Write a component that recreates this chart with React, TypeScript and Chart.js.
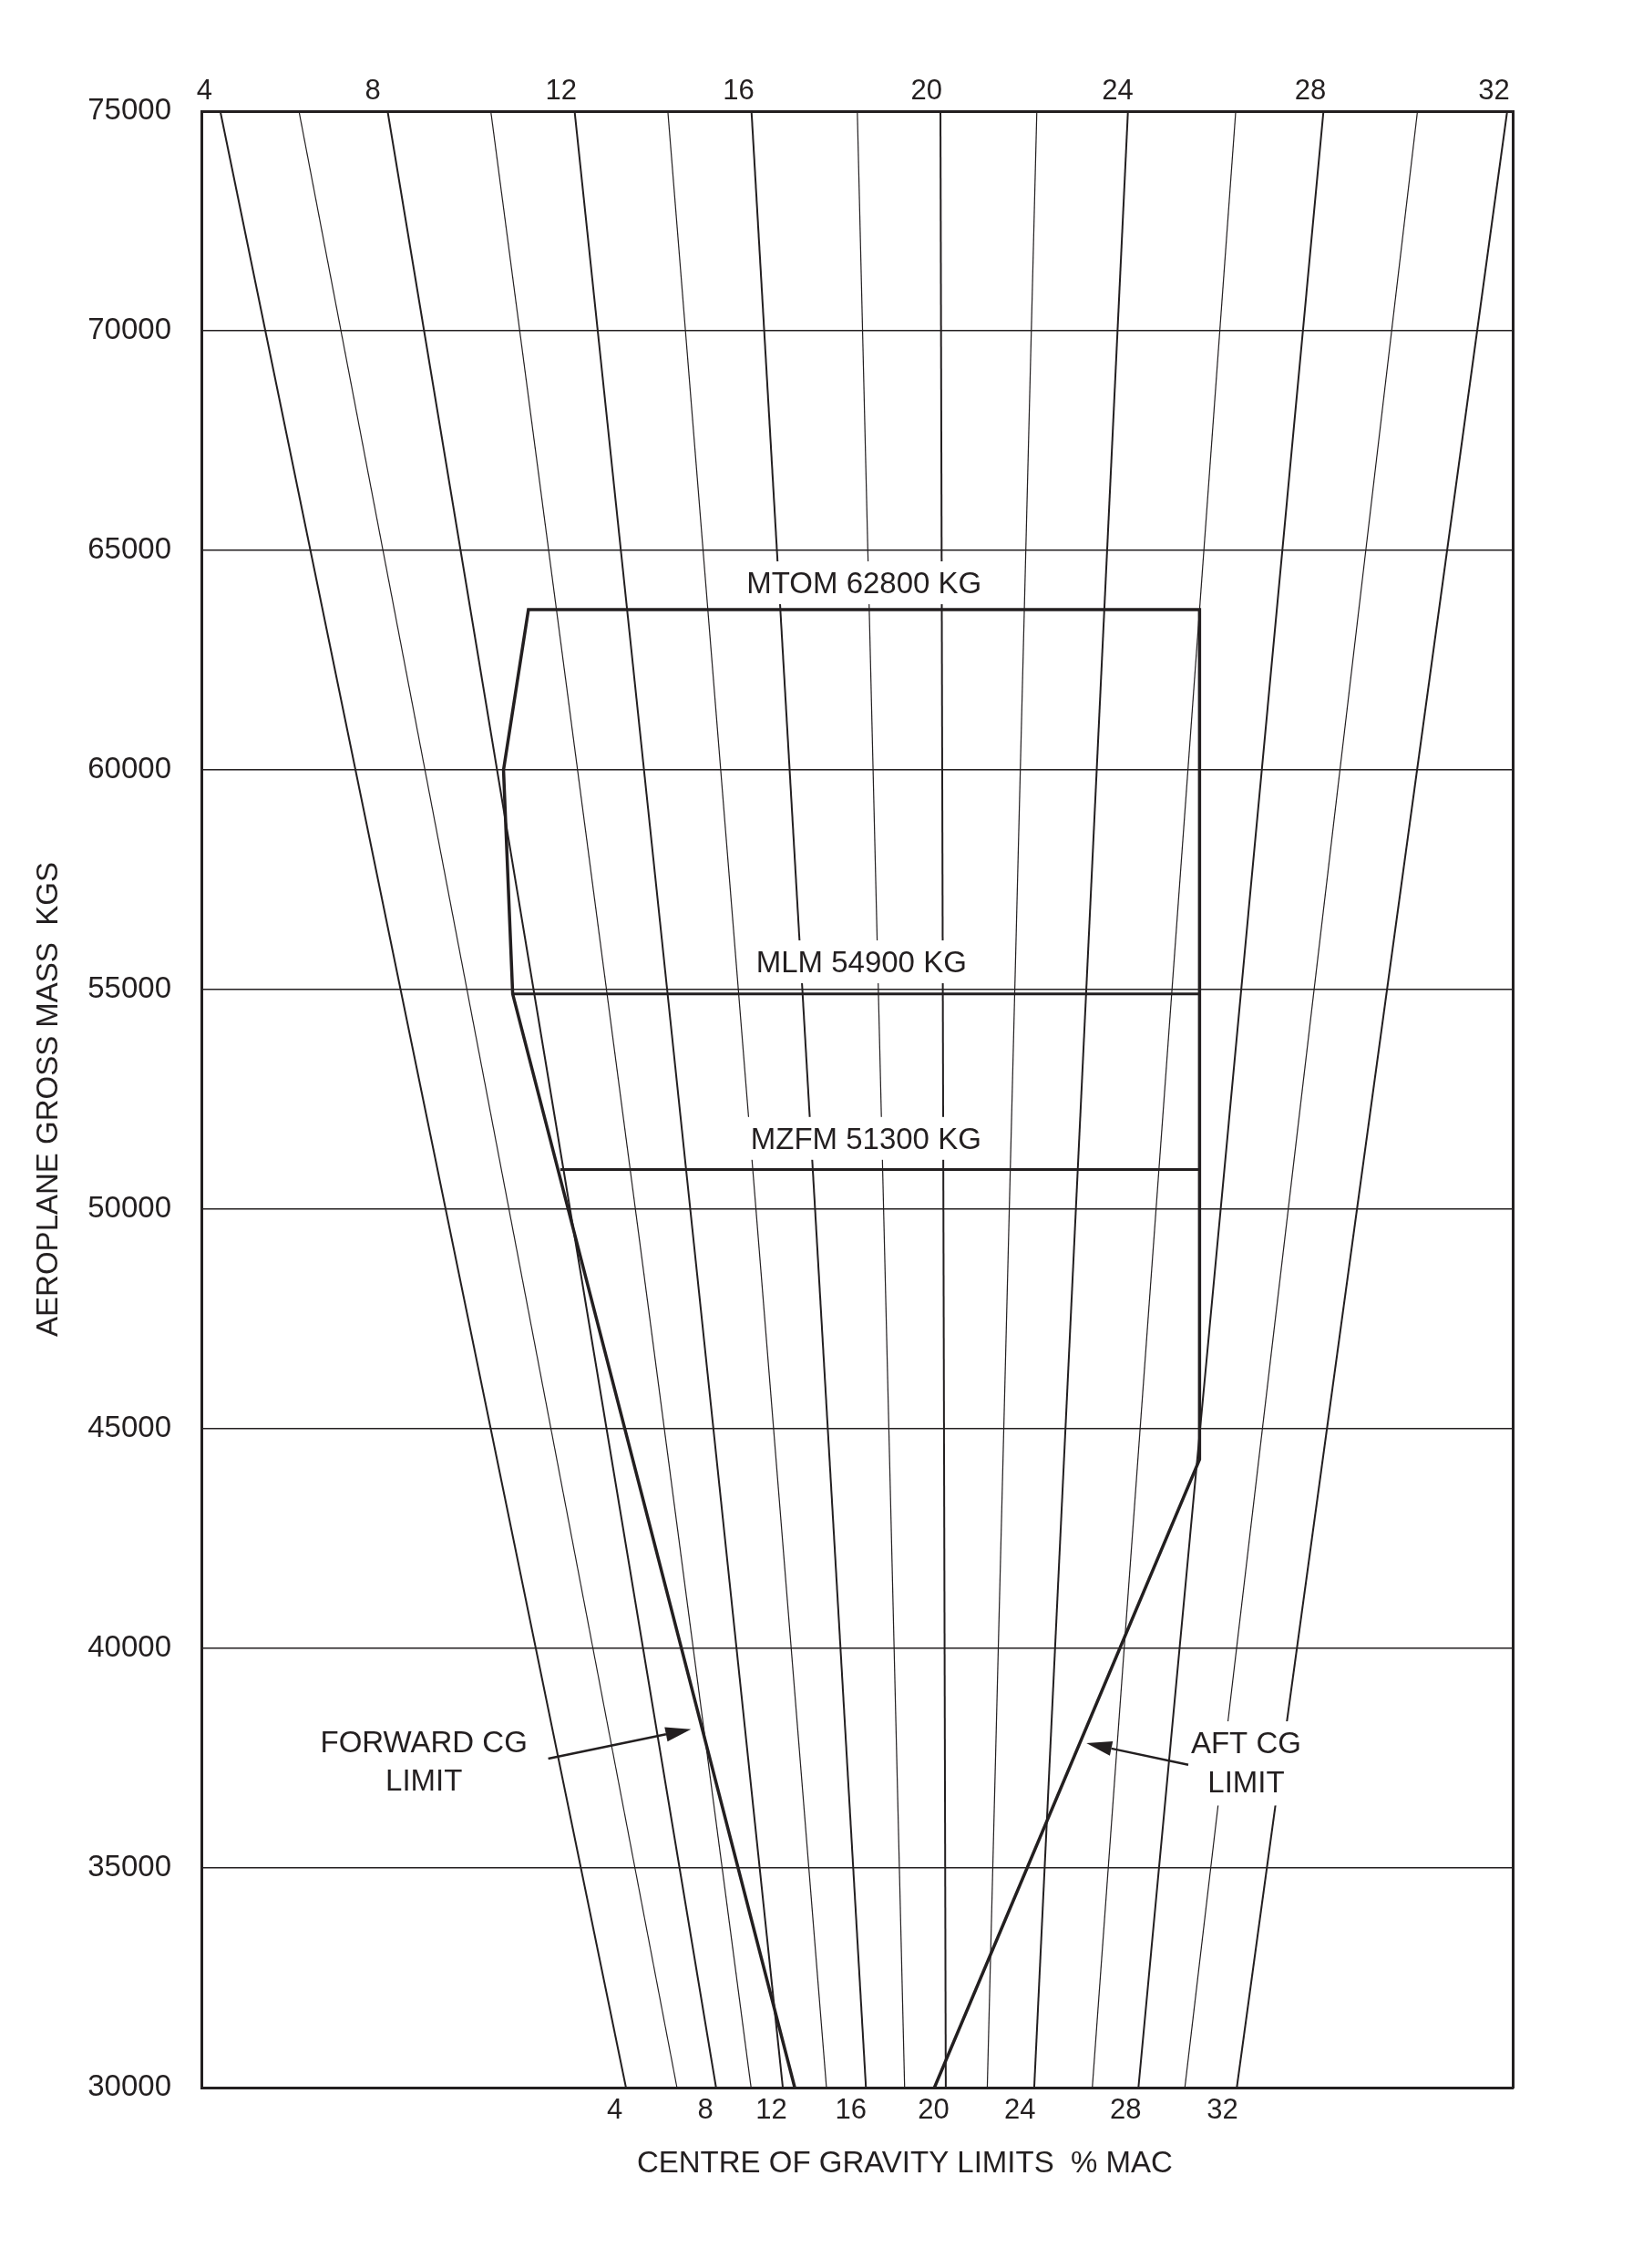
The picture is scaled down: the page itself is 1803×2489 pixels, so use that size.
import React, { useEffect, useRef } from 'react';
import { Chart, registerables } from 'chart.js';

Chart.register(...registerables);

const W = 1803;
const H = 2489;
const INK = '#231f20';
const FONT = '"Liberation Sans", Arial, Helvetica, sans-serif';

// Mass axis (kg)
const MASS_MIN = 30000;
const MASS_MAX = 75000;
const MASS_STEP = 5000;

// Horizontal "index" scale (arbitrary units 0..100 across the plot)
const INDEX_MIN = 0;
const INDEX_MAX = 100;

// %MAC reference lines: index where each meets the 75000 kg edge and the 30000 kg edge
const CG_PERCENT = [4, 6, 8, 10, 12, 14, 16, 18, 20, 22, 24, 26, 28, 30, 32];
const CG_INDEX_AT_MAX_MASS = [1.44, 7.44, 14.2, 22.07, 28.46, 35.57, 41.95, 50.02, 56.36, 63.71, 70.66, 78.88, 85.57, 92.74, 99.58];
const CG_INDEX_AT_MIN_MASS = [32.38, 36.27, 39.25, 41.92, 44.34, 47.67, 50.68, 53.63, 56.77, 59.93, 63.51, 67.94, 71.46, 75.0, 78.96];

// Tick labels (%MAC) along the top and bottom edges
const TOP_TICK_LABELS = ['4', '8', '12', '16', '20', '24', '28', '32'];
const TOP_TICK_INDEX = [0.24, 13.08, 27.44, 40.97, 55.3, 69.88, 84.58, 98.57];
const BOTTOM_TICK_LABELS = ['4', '8', '12', '16', '20', '24', '28', '32'];
const BOTTOM_TICK_INDEX = [31.52, 38.44, 43.47, 49.53, 55.83, 62.42, 70.49, 77.86];

// CG envelope outline (forward limit -> MTOM -> aft limit)
const ENVELOPE_INDEX = [45.25, 23.74, 23.04, 24.94, 76.12, 76.12, 55.9];
const ENVELOPE_MASS = [30000, 54900, 60000, 63650, 63650, 44300, 30000];

// Structural limit lines
const MLM_INDEX = [23.74, 76.12];
const MLM_MASS = 54900;
const MZFM_INDEX = [27.37, 76.12];
const MZFM_MASS = 50900;

// Limit labels
const LIMIT_LABEL_TEXT = ['MTOM 62800 KG', 'MLM 54900 KG', 'MZFM 51300 KG'];
const LIMIT_LABEL_INDEX = [50.54, 50.33, 50.68];
const LIMIT_LABEL_MASS = [64210, 55580, 51560];

// Callout notes and arrows
const NOTE_TEXT = [['FORWARD CG', 'LIMIT'], ['AFT CG', 'LIMIT']];
const NOTE_INDEX = [16.97, 79.67];
const NOTE_MASS = [[37820, 36950], [37800, 36920]];
const ARROW_TAIL_INDEX = [26.45, 75.26];
const ARROW_TAIL_MASS = [37490, 37350];
const ARROW_TIP_INDEX = [37.34, 67.49];
const ARROW_TIP_MASS = [38160, 37840];

const X_TITLE = 'CENTRE OF GRAVITY LIMITS  % MAC';
const X_TITLE_INDEX = 53.64;
const Y_TITLE = 'AEROPLANE GROSS MASS  KGS';

const annotationPlugin = {
  id: 'cgAnnotations',
  afterDatasetsDraw(chart: any) {
    const ctx = chart.ctx;
    const xs = chart.scales.x;
    const ys = chart.scales.y;
    ctx.save();
    ctx.font = `33px ${FONT}`;
    ctx.textAlign = 'center';
    ctx.textBaseline = 'middle';
    // limit labels with white backing
    LIMIT_LABEL_TEXT.forEach((t, i) => {
      const px = xs.getPixelForValue(LIMIT_LABEL_INDEX[i]);
      const py = ys.getPixelForValue(LIMIT_LABEL_MASS[i]);
      const w = ctx.measureText(t).width;
      ctx.fillStyle = '#ffffff';
      ctx.fillRect(px - w / 2 - 6, py - 26, w + 12, 47);
      ctx.fillStyle = INK;
      ctx.fillText(t, px, py);
    });
    // notes with white backing
    NOTE_TEXT.forEach((lines, i) => {
      lines.forEach((t, j) => {
        const px = xs.getPixelForValue(NOTE_INDEX[i]);
        const py = ys.getPixelForValue(NOTE_MASS[i][j]);
        const w = ctx.measureText(t).width;
        ctx.fillStyle = '#ffffff';
        ctx.fillRect(px - w / 2 - 8, py - 26, w + 16, 50);
      });
    });
    NOTE_TEXT.forEach((lines, i) => {
      lines.forEach((t, j) => {
        const px = xs.getPixelForValue(NOTE_INDEX[i]);
        const py = ys.getPixelForValue(NOTE_MASS[i][j]);
        ctx.fillStyle = INK;
        ctx.fillText(t, px, py);
      });
    });
    // arrows
    ARROW_TAIL_INDEX.forEach((_, i) => {
      const x0 = xs.getPixelForValue(ARROW_TAIL_INDEX[i]);
      const y0 = ys.getPixelForValue(ARROW_TAIL_MASS[i]);
      const x1 = xs.getPixelForValue(ARROW_TIP_INDEX[i]);
      const y1 = ys.getPixelForValue(ARROW_TIP_MASS[i]);
      const ang = Math.atan2(y1 - y0, x1 - x0);
      const len = 28;
      const hw = 8;
      const bx = x1 - Math.cos(ang) * len;
      const by = y1 - Math.sin(ang) * len;
      ctx.strokeStyle = INK;
      ctx.lineWidth = 2.5;
      ctx.beginPath();
      ctx.moveTo(x0, y0);
      ctx.lineTo(bx, by);
      ctx.stroke();
      ctx.fillStyle = INK;
      ctx.beginPath();
      ctx.moveTo(x1, y1);
      ctx.lineTo(bx + Math.sin(ang) * hw, by - Math.cos(ang) * hw);
      ctx.lineTo(bx - Math.sin(ang) * hw, by + Math.cos(ang) * hw);
      ctx.closePath();
      ctx.fill();
    });
    // x axis title
    ctx.font = `33px ${FONT}`;
    ctx.fillStyle = INK;
    ctx.fillText(X_TITLE, xs.getPixelForValue(X_TITLE_INDEX), chart.chartArea.bottom + 84);
    ctx.restore();
  },
};

export default function App() {
  const ref = useRef<HTMLCanvasElement | null>(null);

  useEffect(() => {
    if (!ref.current) return;
    Chart.defaults.font.family = FONT;
    Chart.defaults.color = INK;

    const cgDatasets = CG_PERCENT.map((p, i) => ({
      label: `${p}% MAC`,
      data: [
        { x: CG_INDEX_AT_MAX_MASS[i], y: MASS_MAX },
        { x: CG_INDEX_AT_MIN_MASS[i], y: MASS_MIN },
      ],
      showLine: true,
      borderColor: INK,
      borderWidth: p % 4 === 0 ? 2 : 1.2,
      pointRadius: 0,
      order: 3,
    }));

    const envelope = {
      label: 'CG envelope',
      data: ENVELOPE_INDEX.map((x, i) => ({ x, y: ENVELOPE_MASS[i] })),
      showLine: true,
      borderColor: INK,
      borderWidth: 3.5,
      pointRadius: 0,
      order: 1,
    };
    const mlm = {
      label: 'MLM',
      data: MLM_INDEX.map((x) => ({ x, y: MLM_MASS })),
      showLine: true,
      borderColor: INK,
      borderWidth: 3,
      pointRadius: 0,
      order: 1,
    };
    const mzfm = {
      label: 'MZFM',
      data: MZFM_INDEX.map((x) => ({ x, y: MZFM_MASS })),
      showLine: true,
      borderColor: INK,
      borderWidth: 3,
      pointRadius: 0,
      order: 1,
    };

    const chart = new Chart(ref.current, {
      type: 'scatter',
      data: { datasets: [...cgDatasets, mlm, mzfm, envelope] as any },
      plugins: [annotationPlugin],
      options: {
        responsive: false,
        animation: false,
        devicePixelRatio: 1,
        events: [],
        layout: { padding: { left: 0, right: W - 1660, top: 0, bottom: 0 } },
        plugins: { legend: { display: false }, tooltip: { enabled: false } },
        scales: {
          x: {
            type: 'linear',
            position: 'bottom',
            min: INDEX_MIN,
            max: INDEX_MAX,
            grid: { display: false, drawTicks: false },
            border: { display: true, color: INK, width: 3 },
            afterBuildTicks: (s: any) => {
              s.ticks = BOTTOM_TICK_INDEX.map((v) => ({ value: v }));
            },
            afterFit: (s: any) => {
              s.height = H - 2291;
            },
            ticks: {
              autoSkip: false,
              maxRotation: 0,
              padding: 7,
              font: { size: 31 },
              color: INK,
              callback: (_v: any, i: number) => BOTTOM_TICK_LABELS[i],
            },
          },
          x2: {
            type: 'linear',
            position: 'top',
            min: INDEX_MIN,
            max: INDEX_MAX,
            grid: { display: false, drawTicks: false },
            border: { display: true, color: INK, width: 3 },
            afterBuildTicks: (s: any) => {
              s.ticks = TOP_TICK_INDEX.map((v) => ({ value: v }));
            },
            afterFit: (s: any) => {
              s.height = 122;
            },
            ticks: {
              autoSkip: false,
              maxRotation: 0,
              padding: 3,
              font: { size: 31 },
              color: INK,
              callback: (_v: any, i: number) => TOP_TICK_LABELS[i],
            },
          },
          y: {
            type: 'linear',
            position: 'left',
            min: MASS_MIN,
            max: MASS_MAX,
            grid: { display: true, color: INK, lineWidth: 1.5, drawTicks: false },
            border: { display: true, color: INK, width: 3 },
            afterFit: (s: any) => {
              s.width = 221;
            },
            ticks: {
              stepSize: MASS_STEP,
              padding: 33,
              font: { size: 33 },
              color: INK,
              callback: (v: any) => String(v),
            },
            title: {
              display: true,
              text: Y_TITLE,
              font: { size: 33 },
              color: INK,
              padding: { top: 34, bottom: 0 },
            },
          },
          y2: {
            type: 'linear',
            position: 'right',
            min: MASS_MIN,
            max: MASS_MAX,
            grid: { display: false, drawTicks: false },
            border: { display: true, color: INK, width: 3 },
            ticks: { display: false },
            afterFit: (s: any) => {
              s.width = 0;
            },
          },
        },
      } as any,
    });
    return () => chart.destroy();
  }, []);

  return (
    <div style={{ position: 'absolute', left: 0, top: 0, width: W, height: H, background: '#fff' }}>
      <canvas ref={ref} width={W} height={H} style={{ width: W, height: H, display: 'block' }} />
    </div>
  );
}
